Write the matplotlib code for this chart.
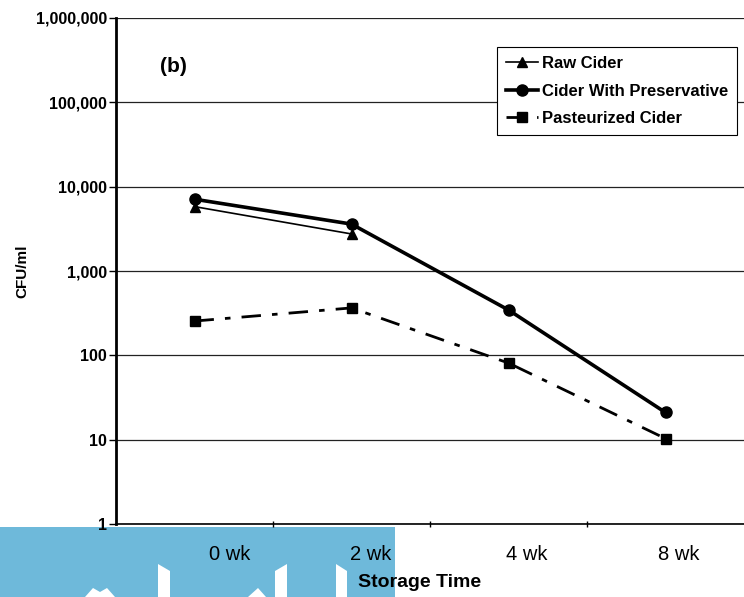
import matplotlib
matplotlib.use("Agg")
import matplotlib.pyplot as plt
import matplotlib.transforms as mtransforms
from matplotlib.patches import Rectangle, Polygon
from matplotlib.ticker import FixedLocator, NullFormatter, FixedFormatter

plt.rcParams['font.family'] = ['Liberation Sans', 'DejaVu Sans']

categories = ["0 wk", "2 wk", "4 wk", "8 wk"]
raw_cider = [5800, 2750]
preservative = [7100, 3600, 345, 21]
pasteurized = [255, 365, 81, 10.3]
y_ticks = [1, 10, 100, 1000, 10000, 100000, 1000000]
y_labels = ["1", "10", "100", "1,000", "10,000", "100,000", "1,000,000"]

W, H = 744, 597
fig = plt.figure(figsize=(W / 100, H / 100), dpi=100)
ax = fig.add_axes([116 / W, 1 - 524 / H, 628 / W, (524 - 18) / H])

x_all = list(range(len(categories)))
ax.plot(x_all[:len(raw_cider)], raw_cider, color='black', lw=1.2, marker='^', ms=7,
        label='Raw Cider', zorder=3)
ax.plot(x_all, preservative, color='black', lw=2.6, marker='o', ms=8,
        label='Cider With Preservative', zorder=3)
ax.plot(x_all, pasteurized, color='black', lw=2.0, marker='s', ms=7,
        linestyle=(0, (7, 4, 2, 4)), label='Pasteurized Cider', zorder=3)

ax.set_yscale('log')
ax.set_ylim(1, 1000000)
ax.set_xlim(-0.5, len(categories) - 0.5)
ax.yaxis.set_major_locator(FixedLocator(y_ticks))
ax.yaxis.set_major_formatter(FixedFormatter(y_labels))
ax.yaxis.set_minor_locator(FixedLocator([]))
ax.grid(axis='y', which='major', color='#222222', lw=0.9)
ax.set_axisbelow(True)

# x: boundary ticks + centred category labels
ax.xaxis.set_major_locator(FixedLocator([0.5, 1.5, 2.5]))
ax.xaxis.set_major_formatter(NullFormatter())
ax.xaxis.set_minor_locator(FixedLocator(x_all))
ax.xaxis.set_minor_formatter(FixedFormatter(categories))
ax.tick_params(axis='x', which='major', length=4, width=1, direction='inout')
ax.tick_params(axis='x', which='minor', length=0, labelsize=14.5, pad=15)
ax.tick_params(axis='y', which='major', length=5, width=1, labelsize=11.5, pad=1.5)
for lab in ax.get_yticklabels():
    lab.set_fontweight('bold')

offsets = [35, 19, 18, 13]
for lab, off in zip(ax.xaxis.get_minorticklabels(), offsets):
    lab.set_transform(lab.get_transform() + mtransforms.ScaledTranslation(off / 100, 0, fig.dpi_scale_trans))

ax.spines['top'].set_visible(False)
ax.spines['right'].set_visible(False)
ax.spines['left'].set_linewidth(2)
ax.spines['bottom'].set_linewidth(1.2)

ax.set_ylabel('CFU/ml', fontsize=11, fontweight='bold')
ax.yaxis.set_label_coords((29 - 116) / 628, 0.5)
ax.set_xlabel('Storage Time', fontsize=14, fontweight='bold')
ax.xaxis.set_label_coords((420 - 116) / 628, (524 - 574) / 506)
ax.text(0.07, 0.905, '(b)', transform=ax.transAxes, fontsize=15, fontweight='bold',
        ha='left', va='center')

leg = ax.legend(loc='upper left', bbox_to_anchor=(0.607, 0.942), borderaxespad=0,
                frameon=True, fancybox=False, edgecolor='black', framealpha=1,
                prop={'weight': 'bold', 'size': 12}, handlelength=1.9,
                handletextpad=0.25, labelspacing=0.75, borderpad=0.52)
leg.get_frame().set_linewidth(0.8)

# blue overlay band at bottom-left (scan artefact)
fig.add_artist(Rectangle((0, 0), 395 / W, (597 - 527) / H, transform=fig.transFigure,
                         facecolor='#6EB9DA', edgecolor='none', zorder=-1))
white_shapes = [
    [(158, 597), (158, 564), (170, 571), (170, 597)],
    [(275, 597), (275, 571), (287, 564), (287, 597)],
    [(336, 597), (336, 564), (347, 571), (347, 597)],
    [(85, 597), (93, 588), (100, 592), (107, 588), (115, 597)],
    [(248, 597), (258, 588), (266, 597)],
]
for pts in white_shapes:
    fig.add_artist(Polygon([(x / W, 1 - y / H) for x, y in pts], closed=True,
                           transform=fig.transFigure, facecolor='white',
                           edgecolor='none', zorder=-0.5))

fig.savefig('out.png', dpi=100)
